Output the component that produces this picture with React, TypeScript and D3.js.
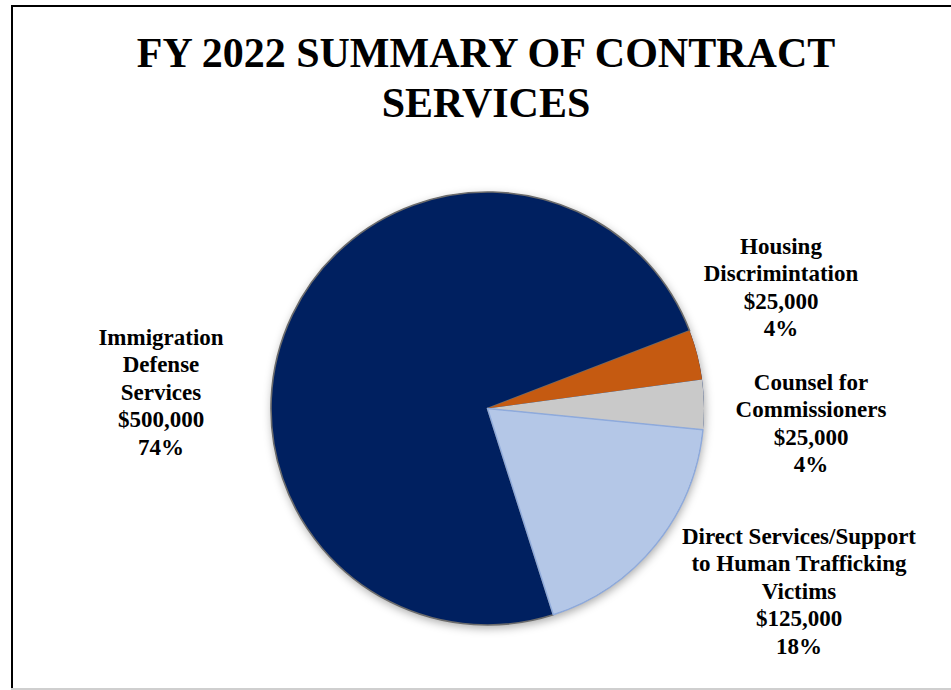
import React from "react";
import * as d3 from "d3";

const categories = [
  ["Immigration", "Defense", "Services"],
  ["Housing", "Discrimintation"],
  ["Counsel for", "Commissioners"],
  ["Direct Services/Support", "to Human Trafficking", "Victims"],
];
const values = [500000, 25000, 25000, 125000];
const percentLabels = ["74%", "4%", "4%", "18%"];
const colors = ["#002060", "#C55A11", "#C9C9C9", "#B4C7E7"];
const strokes = ["#6b6b6b", "none", "none", "#8EAADC"];
const titleLines = ["FY 2022 SUMMARY OF CONTRACT", "SERVICES"];

// label anchor layout (centre x, first baseline y)
const labelAnchors = [
  { x: 161, y: 345 },
  { x: 781, y: 254 },
  { x: 811, y: 390 },
  { x: 799, y: 544 },
];

const W = 951;
const H = 690;
const cx = 487.5;
const cy = 408.5;
const R = 216.5;
const startDeg = 162.3;

export default function App() {
  const pie = d3
    .pie<number>()
    .sort(null)
    .value((d) => d)
    .startAngle((startDeg * Math.PI) / 180)
    .endAngle((startDeg * Math.PI) / 180 + 2 * Math.PI);
  const arcs = pie(values);
  const arc = d3.arc<d3.PieArcDatum<number>>().innerRadius(0).outerRadius(R);
  const fmt = d3.format("$,");
  const font = "'Liberation Serif', 'Times New Roman', serif";
  const lh = 27.4;

  return (
    <svg
      width={W}
      height={H}
      style={{ position: "absolute", left: 0, top: 0, background: "#fff" }}
      fontFamily={font}
    >
      <defs>
        <filter id="shadow" x="-20%" y="-20%" width="140%" height="140%">
          <feDropShadow dx="1" dy="3" stdDeviation="5" floodColor="#000" floodOpacity="0.35" />
        </filter>
      </defs>
      <rect x={0} y={0} width={W} height={H} fill="#fff" />
      {/* frame */}
      <line x1={12} y1={5} x2={12} y2={689} stroke="#000" strokeWidth={2} />
      <line x1={11} y1={6} x2={W} y2={6} stroke="#000" strokeWidth={2} />
      <line x1={11} y1={689} x2={W} y2={689} stroke="#cfcfcf" strokeWidth={2} />

      {/* title */}
      {titleLines.map((t, i) => (
        <text
          key={t}
          x={486}
          y={67 + i * 50}
          textAnchor="middle"
          fontSize={42}
          fontWeight="bold"
          fill="#000"
        >
          {t}
        </text>
      ))}

      {/* pie */}
      <g transform={`translate(${cx},${cy})`}>
        <circle r={R} fill="#002060" filter="url(#shadow)" />
        {arcs.map((a, i) => (
          <path
            key={i}
            d={arc(a) || ""}
            fill={colors[i]}
            stroke={strokes[i]}
            strokeWidth={i === 0 ? 1.6 : 1.4}
            strokeLinejoin="round"
          />
        ))}
      </g>

      {/* labels */}
      {categories.map((lines, i) => {
        const all = [...lines, fmt(values[i]), percentLabels[i]];
        return (
          <text
            key={i}
            x={labelAnchors[i].x}
            y={labelAnchors[i].y}
            textAnchor="middle"
            fontSize={23}
            fontWeight="bold"
            fill="#000"
          >
            {all.map((l, j) => (
              <tspan key={j} x={labelAnchors[i].x} y={labelAnchors[i].y + j * lh}>
                {l}
              </tspan>
            ))}
          </text>
        );
      })}
    </svg>
  );
}
